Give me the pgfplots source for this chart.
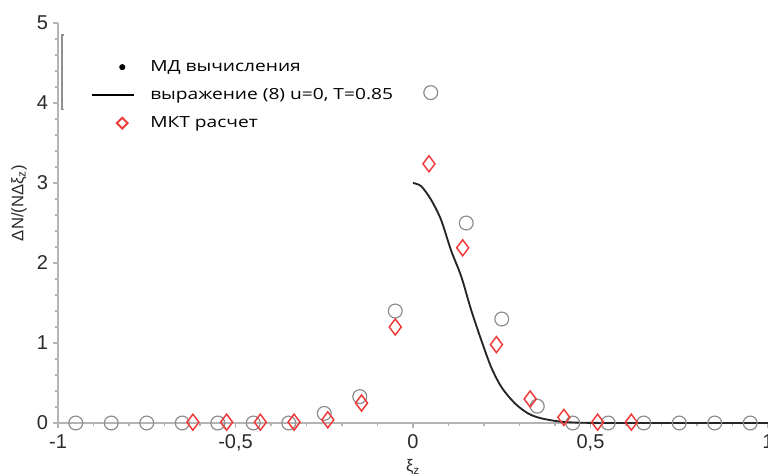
\documentclass[border=0pt]{standalone}
\usepackage{fontspec}
\setmainfont{Liberation Sans}
\newfontfamily\legfont{Open Sans}
\usepackage{graphicx}
\usepackage{pgfplots}
\pgfplotsset{compat=1.18}
\definecolor{mdgray}{HTML}{8C8C8C}
\definecolor{mktred}{HTML}{F03838}
\definecolor{axgray}{HTML}{B4B4B4}
\definecolor{lblgray}{HTML}{2A2A2A}
\newcommand{\wide}[1]{\scalebox{1.25}[1]{#1}}

\begin{document}
\begin{tikzpicture}
\begin{axis}[
    at={(43.5pt,39pt)}, anchor=south west,
    width=532.5pt, height=300pt, scale only axis,
    xmin=-1, xmax=1, ymin=0, ymax=5,
    clip=false,
    axis lines*=left,
    axis line style={axgray, line width=1pt},
    xtick={-1,-0.5,0,0.5,1},
    ytick={0,1,2,3,4,5},
    minor x tick num=4, minor y tick num=4,
    tick align=outside,
    major tick length=4pt, minor tick length=2.5pt,
    every tick/.style={axgray, line width=0.8pt},
    /pgf/number format/use comma,
    /pgf/number format/assume math mode=true,
    tick label style={font=\fontsize{15}{17}\selectfont, text=lblgray},
    xticklabel style={yshift=-1pt},
    xlabel={ξ\textsubscript{z}},
    ylabel={ΔN/(NΔξ\textsubscript{z})},
    label style={font=\fontsize{12.5}{14}\selectfont, text=lblgray},
    xlabel style={at={(axis description cs:0.5,-0.11)}, anchor=center},
    ylabel style={at={(axis description cs:-0.055,0.55)}, anchor=center},
    legend style={draw=none, fill=none, at={(axis description cs:0.04,0.922)}, anchor=north west,
        font=\legfont\fontsize{11.5}{13}\selectfont, row sep=6pt, legend cell align=left,
        nodes={text height=8.5pt, text depth=2.5pt}},
]
% MD
\addplot[only marks, mark=o, mark size=5.2pt, draw=mdgray, line width=0.9pt,
    legend image code/.code={\path[draw=none] (0,0) -- (42pt,0); \fill[black] (23pt,0) circle (1.8pt);}]
coordinates {
(-0.95,0) (-0.85,0) (-0.75,0) (-0.65,0) (-0.55,0) (-0.45,0) (-0.35,0)
(-0.25,0.12) (-0.15,0.33) (-0.05,1.40) (0.05,4.13) (0.15,2.50) (0.25,1.30)
(0.35,0.21) (0.45,0) (0.55,0) (0.65,0) (0.75,0) (0.85,0) (0.95,0)
};
\addlegendentry{\wide{МД вычисления}}
% expression (8)
\addplot[black!85, line width=1.4pt, smooth,
    legend image code/.code={\path[draw=none] (0,0) -- (42pt,0); \draw[black, line width=1.4pt] (0pt,0) -- (32pt,0);}]
coordinates {
(0,3.00) (0.023,2.96) (0.051,2.79) (0.079,2.54) (0.107,2.16) (0.136,1.83)
(0.164,1.41) (0.192,1.04) (0.22,0.70) (0.249,0.45) (0.286,0.25) (0.324,0.12)
(0.36,0.06) (0.41,0.02) (0.46,0.005) (0.55,0) (0.7,0) (0.85,0) (1,0)
};
\addlegendentry{\wide{выражение (8) u=0, T=0.85}}
% MKT
\addplot[only marks, mark=diamond, mark size=6pt, draw=mktred, line width=1.1pt,
    legend image code/.code={\path[draw=none] (0,0) -- (42pt,0); \draw[mktred, line width=1.4pt] (23pt,0) ++(0,4pt) -- ++(4pt,-4pt) -- ++(-4pt,-4pt) -- ++(-4pt,4pt) -- cycle;}]
coordinates {
(-0.62,0.01) (-0.525,0.01) (-0.43,0.01) (-0.335,0.01) (-0.24,0.04) (-0.145,0.25)
(-0.05,1.20) (0.045,3.24) (0.14,2.19) (0.235,0.98) (0.33,0.30) (0.425,0.07)
(0.52,0.01) (0.615,0.01)
};
\addlegendentry{\wide{МКТ расчет}}
% stray bracket left over from the legend frame
\draw[axgray!80!black, line width=1pt] (axis cs:-0.982,4.85) -- (axis cs:-0.989,4.85) -- (axis cs:-0.989,3.92) -- (axis cs:-0.982,3.92);
\end{axis}
\pgfresetboundingbox
\path[use as bounding box] (0,0) rectangle (576pt,356.25pt);
\end{tikzpicture}
\end{document}
